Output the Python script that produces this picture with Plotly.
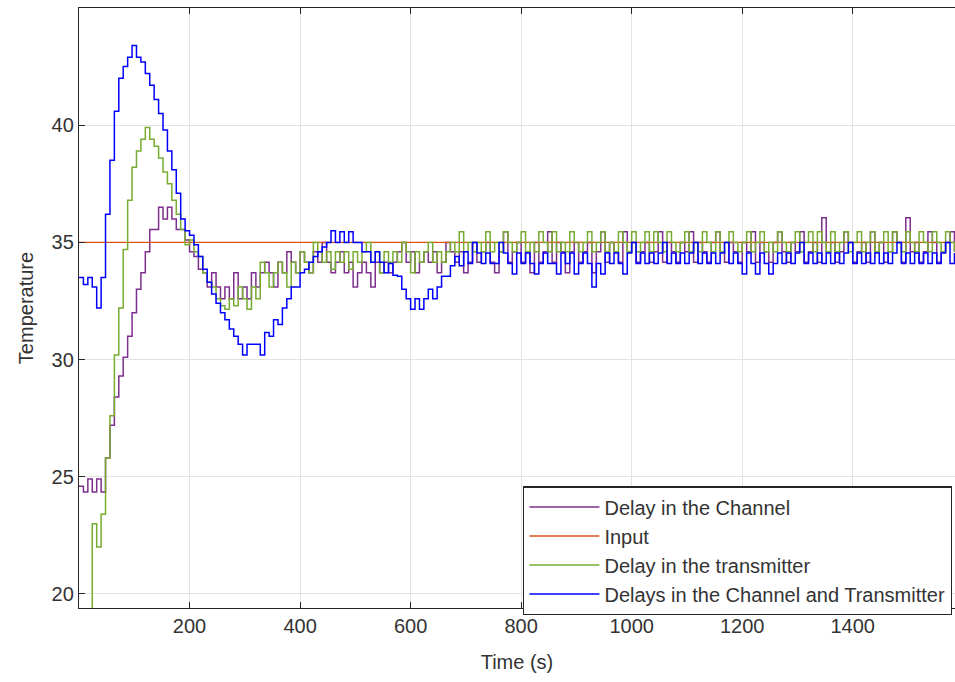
import plotly.graph_objects as go

# sampling grid (s)
time_s = list(range(0, 1592, 8))

# Delays in the Channel and Transmitter (blue)
both_delay = [
    33.5, 33.2, 33.5, 33.1, 32.2, 33.5, 36.2, 38.5, 40.6, 42.0,
    42.5, 42.9, 43.4, 42.9, 42.7, 42.2, 41.7, 41.1, 40.5, 39.8,
    38.9, 38.1, 37.1, 36.0, 35.5, 35.3, 34.9, 34.4, 33.85, 33.3,
    32.8, 32.4, 32.0, 31.7, 31.3, 31.0, 30.65, 30.2, 30.65, 30.65,
    30.65, 30.2, 31.15, 31.0, 31.7, 31.5, 32.2, 32.6, 33.1, 33.1,
    33.7, 33.85, 34.15, 34.4, 34.6, 34.8, 35.0, 35.5, 35.0, 35.45,
    35.0, 35.45, 35.0, 35.0, 34.6, 34.6, 34.15, 34.6, 34.15, 33.7,
    34.1, 33.6, 33.55, 33.0, 32.6, 32.15, 32.6, 32.15, 32.6, 33.0,
    32.6, 33.1, 33.55, 33.55, 34.0, 34.4, 34.0, 34.6, 34.1, 35.0,
    34.55, 34.1, 34.55, 34.1, 34.1, 35.0, 34.55, 34.1, 33.65, 34.55,
    34.1, 34.55, 34.1, 33.65, 34.1, 34.55, 34.1, 34.1, 33.65, 34.55,
    34.1, 34.55, 33.65, 34.1, 34.55, 34.1, 33.1, 34.1, 33.65, 34.55,
    34.1, 34.55, 34.1, 33.65, 34.55, 35.0, 34.1, 34.55, 34.1, 34.55,
    34.1, 34.55, 35.0, 34.1, 34.55, 34.1, 34.55, 34.1, 34.55, 35.0,
    34.1, 34.55, 34.1, 34.55, 34.1, 34.55, 35.0, 34.1, 34.55, 34.1,
    33.65, 34.55, 34.1, 33.65, 34.55, 34.1, 33.65, 34.1, 34.55, 34.1,
    34.55, 34.1, 34.55, 35.0, 34.1, 34.55, 34.1, 34.55, 34.1, 34.55,
    34.1, 34.55, 34.1, 34.55, 35.0, 34.1, 34.55, 34.1, 34.55, 34.1,
    34.55, 34.1, 34.55, 34.1, 34.55, 35.0, 34.1, 34.55, 34.1, 34.55,
    34.1, 34.55, 34.1, 34.55, 34.1, 34.55, 35.0, 34.1, 34.55,
]

# Delay in the transmitter (green)
tx_delay = [
    17.0, 17.0, 17.0, 23.0, 22.0, 23.4, 25.8, 27.6, 30.2, 32.2,
    34.7, 36.8, 38.2, 38.9, 39.4, 39.9, 39.4, 39.1, 38.6, 38.0,
    37.5, 36.8, 36.2, 35.55, 34.9, 35.1, 34.6, 34.4, 33.7, 33.3,
    33.1, 32.6, 32.3, 32.15, 32.6, 32.3, 33.1, 32.6, 32.15, 33.1,
    32.6, 34.15, 33.7, 33.1, 33.7, 34.15, 33.7, 33.1, 34.15, 33.7,
    34.6, 34.15, 33.7, 35.0, 34.6, 34.15, 34.6, 33.85, 34.6, 34.15,
    34.6, 33.85, 34.6, 34.15, 34.6, 35.0, 34.15, 34.6, 33.7, 34.6,
    34.15, 34.6, 34.15, 35.0, 34.6, 33.7, 34.6, 34.15, 34.6, 35.0,
    34.15, 34.6, 34.15, 34.6, 35.0, 34.6, 35.45, 34.6, 35.0, 34.6,
    35.0, 34.6, 35.45, 34.6, 35.0, 34.6, 35.45, 35.0, 34.6, 35.0,
    35.45, 34.6, 35.0, 34.6, 35.45, 35.0, 34.6, 35.45, 34.6, 35.0,
    34.6, 35.45, 35.0, 34.6, 35.0, 35.45, 34.6, 35.0, 35.45, 34.6,
    35.0, 34.6, 35.45, 35.0, 34.6, 35.45, 34.6, 35.0, 35.45, 34.6,
    35.45, 35.0, 34.6, 35.45, 35.0, 34.6, 35.0, 35.45, 34.6, 35.0,
    34.6, 35.45, 35.0, 34.6, 35.45, 34.6, 35.0, 35.45, 35.0, 34.6,
    35.0, 35.45, 34.6, 35.0, 35.45, 34.6, 35.0, 34.6, 35.45, 35.0,
    34.6, 35.0, 35.45, 34.6, 35.0, 35.45, 34.6, 35.45, 35.0, 34.6,
    35.45, 34.6, 35.0, 35.45, 34.6, 35.0, 35.45, 34.6, 35.0, 35.45,
    34.6, 35.0, 35.45, 34.6, 35.45, 35.0, 34.6, 35.45, 35.0, 34.6,
    35.45, 35.0, 34.6, 35.45, 35.0, 34.6, 35.45, 35.0, 34.6,
]

# Delay in the Channel (purple)
ch_delay = [
    24.6, 24.35, 24.9, 24.35, 24.9, 24.35, 25.8, 27.2, 28.4, 29.3,
    30.1, 31.0, 32.0, 33.0, 33.7, 34.6, 35.55, 35.55, 36.5, 36.0,
    36.5, 36.0, 35.55, 35.55, 35.1, 34.6, 34.4, 33.85, 33.7, 33.1,
    33.7, 33.1, 32.6, 33.1, 32.6, 33.7, 32.6, 33.1, 32.6, 33.7,
    33.1, 33.7, 34.15, 33.7, 33.1, 34.15, 33.7, 34.6, 34.15, 33.7,
    34.6, 34.15, 33.7, 34.6, 34.15, 35.0, 34.15, 33.7, 34.15, 34.6,
    33.7, 34.15, 33.1, 33.7, 34.15, 33.7, 33.1, 34.15, 33.7, 34.15,
    33.7, 34.15, 34.6, 35.0, 34.15, 34.6, 33.7, 34.15, 34.6, 34.15,
    34.6, 33.7, 34.15, 35.0, 34.6, 34.15, 34.6, 33.7, 34.15, 35.0,
    34.15, 34.6, 35.0, 34.15, 33.7, 34.6, 35.45, 34.15, 34.6, 35.0,
    34.15, 34.6, 33.7, 35.0, 34.15, 34.6, 35.45, 34.15, 35.0, 34.6,
    33.7, 34.6, 35.0, 34.15, 34.6, 35.0, 33.7, 34.6, 35.45, 34.15,
    35.0, 34.6, 34.15, 35.45, 34.6, 35.0, 34.15, 34.6, 35.0, 34.15,
    34.6, 35.45, 34.15, 35.0, 34.6, 34.15, 35.0, 34.6, 35.45, 34.15,
    35.0, 34.6, 34.15, 35.0, 35.45, 34.6, 34.15, 35.0, 34.6, 34.15,
    35.0, 34.6, 35.45, 34.15, 35.0, 34.6, 34.15, 35.0, 35.45, 34.6,
    34.15, 35.0, 34.6, 35.45, 34.15, 34.6, 35.0, 34.15, 36.05, 34.6,
    35.0, 34.15, 34.6, 35.45, 35.0, 34.15, 34.6, 35.0, 34.15, 35.45,
    34.6, 35.0, 34.15, 34.6, 35.45, 35.0, 34.15, 36.05, 34.6, 35.0,
    34.15, 34.6, 35.45, 35.0, 34.15, 34.6, 35.0, 35.45, 34.6,
]

# Input (set point)
input_time = [0, 1600]
input_value = [35, 35]

x_ticks = [200, 400, 600, 800, 1000, 1200, 1400]
y_ticks = [20, 25, 30, 35, 40]

assert len(time_s) == len(both_delay) == len(tx_delay) == len(ch_delay)

LW = 1.5
fig = go.Figure()
fig.add_trace(go.Scatter(x=time_s, y=ch_delay, mode="lines", line_shape="hv",
                         name="Delay in the Channel",
                         line=dict(color="#7E2F8E", width=LW)))
fig.add_trace(go.Scatter(x=input_time, y=input_value, mode="lines",
                         name="Input", line=dict(color="#D95319", width=1.3)))
fig.add_trace(go.Scatter(x=time_s, y=tx_delay, mode="lines", line_shape="hv",
                         name="Delay in the transmitter",
                         line=dict(color="#77AC30", width=LW)))
fig.add_trace(go.Scatter(x=time_s, y=both_delay, mode="lines", line_shape="hv",
                         name="Delays in the Channel and Transmitter",
                         line=dict(color="#0000FF", width=LW)))

axis_common = dict(
    showline=True, linecolor="#262626", linewidth=1.3,
    ticks="inside", ticklen=6, tickcolor="#262626",
    showgrid=True, gridcolor="#E3E3E3", gridwidth=1, zeroline=False,
    tickfont=dict(family="Liberation Sans, Arial", size=20, color="#333333"),
)

fig.update_layout(
    width=955, height=682,
    margin=dict(l=79, r=0, t=8, b=74),
    paper_bgcolor="white", plot_bgcolor="white",
    font=dict(family="Liberation Sans, Arial", color="#333333"),
    xaxis=dict(range=[0, 1585], tickvals=x_ticks, mirror="ticks",
               title=dict(text="Time (s)", font=dict(size=20, color="#333333"), standoff=18),
               **axis_common),
    yaxis=dict(range=[19.4, 45], tickvals=y_ticks, mirror=False,
               title=dict(text="Temperature", font=dict(size=20, color="#333333"), standoff=12),
               **axis_common),
    legend=dict(x=0.507, y=0.203, xanchor="left", yanchor="top",
                bgcolor="white", bordercolor="#262626", borderwidth=1.3,
                itemwidth=70,
                font=dict(size=20, color="#333333"), tracegroupgap=0),
)

fig.write_html("out.html")
